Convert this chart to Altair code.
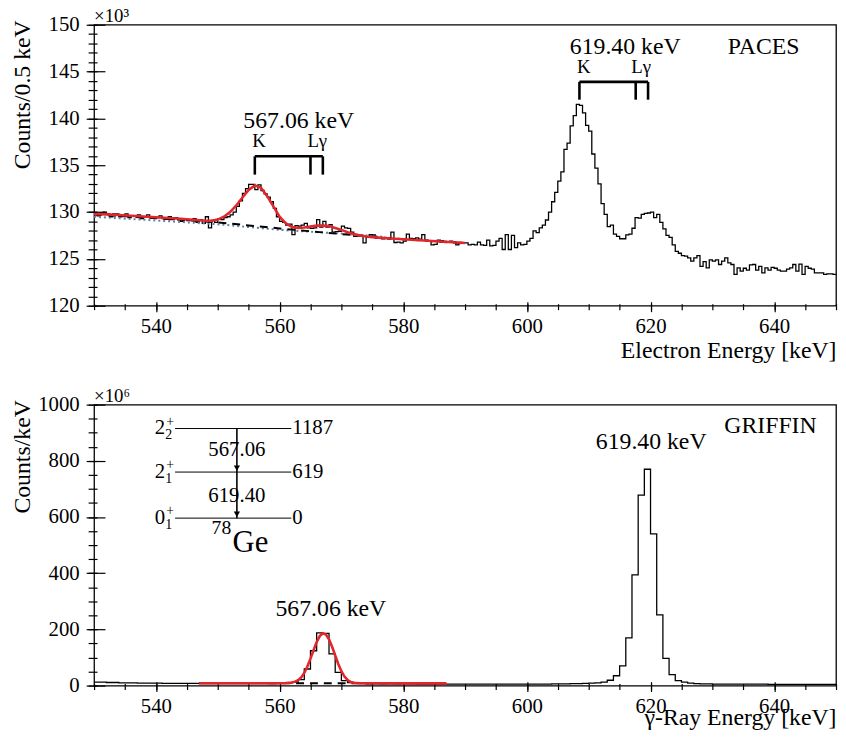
import altair as alt
import pandas as pd

FONT = "Liberation Serif"
W, H = 750, 284
RED = "#e3262b"
BLUE = "#5f809e"

# ---------------- PACES (electron) spectrum, 0.5 keV bins, counts x10^3 ----------------
paces_start = 530.0
paces_binw = 0.5
paces_counts = [
    # 530.0 - 549.5
    129.9, 129.6, 129.9, 130.0, 129.8, 129.5, 129.8, 129.8, 129.5, 129.7,
    129.8, 129.4, 129.6, 129.6, 129.7, 129.3, 129.5, 129.7, 129.4, 129.5,
    129.4, 129.6, 129.3, 129.4, 129.5, 129.2, 129.4, 129.3, 129.0, 129.2,
    129.1, 129.2, 129.3, 128.9, 129.2, 128.8, 129.5, 128.3, 129.1, 128.9,
    # 550.0 - 559.5
    129.3, 129.2, 129.4, 129.5, 129.7, 130.0, 130.6, 131.2, 132.0, 132.5,
    132.95, 132.95, 132.4, 132.9, 132.3, 131.95, 131.6, 131.1, 130.4, 129.5,
    # 560.0 - 589.5
    129.0, 128.9, 128.6, 128.7, 127.6, 128.55, 128.5, 128.6, 128.8, 128.3,
    128.25, 128.3, 129.2, 128.4, 129.0, 128.4, 128.65, 127.85, 127.9, 127.95,
    128.5, 128.3, 128.25, 127.85, 127.4, 127.45, 127.5, 126.7, 127.3, 127.6,
    127.55, 127.2, 127.25, 127.15, 127.2, 127.1, 127.85, 126.75, 126.8, 126.7,
    126.9, 127.64, 127.2, 127.15, 127.25, 127.1, 127.6, 127.0, 126.9, 126.5,
    126.55, 127.0, 126.95, 126.86, 126.8, 126.9, 126.85, 126.5, 126.75, 126.7,
    # 590.0 - 619.5
    126.7, 126.5, 126.55, 126.5, 126.8, 126.5, 126.45, 127.0, 126.4, 126.45,
    126.9, 127.2, 126.0, 127.6, 126.0, 127.5, 126.2, 126.7, 126.5, 126.55,
    126.9, 127.2, 128.0, 127.8, 128.3, 128.6, 129.15, 130.0, 131.1, 132.1,
    133.3, 134.3, 136.7, 137.35, 139.2, 140.3, 141.5, 141.4, 140.6, 139.25,
    138.65, 136.2, 134.7, 133.0, 130.9, 129.75, 128.45, 128.6, 127.64, 127.4,
    127.15, 127.15, 127.57, 127.64, 128.27, 129.4, 129.35, 129.75, 129.85, 129.9,
    # 620.0 - 649.5
    130.0, 129.4, 129.75, 128.9, 128.2, 127.5, 127.3, 126.5, 125.8, 125.6,
    125.35, 125.3, 125.1, 124.75, 125.1, 125.35, 124.2, 124.7, 124.05, 124.9,
    124.75, 124.9, 124.4, 124.75, 125.1, 124.57, 124.4, 123.35, 124.05, 123.7,
    124.0, 123.8, 124.35, 124.4, 123.8, 124.2, 123.5, 124.05, 123.8, 124.1,
    124.0, 123.8, 123.7, 123.7, 123.9, 124.05, 124.4, 123.7, 124.45, 123.35,
    124.2, 124.0, 123.9, 123.5, 123.5, 123.5, 123.35, 123.4, 123.4, 123.35,
]

paces_fit_energy = [530, 532, 534, 536, 538, 540, 542, 544, 546, 548, 549, 550, 551, 552,
                    553, 554, 555, 556, 557, 558, 559, 560, 561, 562, 563, 564, 565, 566,
                    567, 568, 569, 570, 571, 572, 573, 574, 575, 576, 578, 580, 582, 584,
                    586, 588, 590]
paces_fit_counts = [129.8, 129.75, 129.68, 129.6, 129.52, 129.45, 129.37, 129.28, 129.17,
                    129.08, 129.08, 129.2, 129.5, 130.0, 130.7, 131.55, 132.35, 132.85,
                    132.6, 131.7, 130.6, 129.5, 128.8, 128.4, 128.3, 128.35, 128.45, 128.55,
                    128.55, 128.5, 128.3, 128.1, 127.85, 127.65, 127.5, 127.4, 127.32,
                    127.27, 127.18, 127.1, 127.02, 126.94, 126.86, 126.78, 126.7]
paces_bg_energy = [530, 540, 550, 560, 570, 580, 590]
paces_bg_counts = [129.75, 129.35, 128.9, 128.25, 127.65, 127.1, 126.65]
paces_bg2_energy = [530, 540, 550, 560, 570, 577]
paces_bg2_counts = [129.5, 129.1, 128.7, 128.1, 127.7, 127.35]

# ---------------- GRIFFIN (gamma) spectrum, 1 keV bins ----------------
griffin_start = 530.0
griffin_binw = 1.0
griffin_counts = [
    12, 12, 11, 11, 10, 10, 10, 9, 9, 9,
    9, 8, 8, 8, 8, 8, 8, 7, 7, 7,
    7, 7, 7, 7, 7, 7, 7, 7, 7, 7,
    8, 9, 12, 21, 59, 124, 188, 186, 113, 47,
    18, 11, 8, 7, 6, 6, 6, 6, 6, 6,
    6, 6, 5, 5, 5, 5, 5, 5, 5, 5,
    5, 5, 5, 5, 5, 5, 5, 5, 5, 5,
    5, 5, 5, 5, 6, 6, 6, 7, 7, 8,
    9, 10, 12, 19, 35, 70, 170, 394, 678, 770,
    540, 252, 97, 39, 18, 12, 9, 7, 6, 6,
    5, 5, 5, 5, 5, 5, 5, 5, 5, 4,
    4, 4, 4, 4, 4, 4, 4, 4, 4, 4,
]
griffin_fit_energy = [547, 550, 555, 558, 560, 561, 562, 562.5, 563, 563.5, 564, 564.5, 565,
                      565.5, 566, 566.5, 567, 567.5, 568, 568.5, 569, 569.5, 570, 570.5, 571,
                      571.5, 572, 573, 575, 580, 587]
griffin_fit_counts = [8.5, 8.4, 8.3, 8.3, 8.5, 9, 11, 14, 19, 29, 45, 68, 96, 126, 155, 176,
                      186, 182, 165, 138, 107, 77, 51, 32, 20, 13, 10, 8.5, 8.2, 8.0, 7.8]
griffin_bg_energy = [547, 587]
griffin_bg_counts = [9.0, 8.0]

# ---------------- annotation texts ----------------
top_texts = ["567.06 keV", "619.40 keV", "PACES"]
top_text_E = [563.1, 615.9, 638.3]
top_text_C = [139.7, 147.6, 147.6]
conv_labels = ["K", "Lγ", "K", "Lγ"]
conv_label_E = [556.7, 566.1, 609.2, 618.5]
conv_label_C = [137.6, 137.6, 145.5, 145.5]
bracket_K = [556.0, 608.5]
bracket_L1 = [565.0, 617.6]
bracket_L2 = [567.0, 619.6]
bracket_top = [135.95, 143.9]
bracket_bot = [134.0, 142.0]

bot_texts = ["567.06 keV", "619.40 keV", "GRIFFIN"]
bot_text_E = [568.3, 620.1, 639.4]
bot_text_C = [273, 866, 925]

# level scheme of 78Ge
level_names = ["2", "2", "0"]
level_sub = ["2", "1", "1"]
level_energy = ["1187", "619", "0"]
level_y = [915, 760, 596]
level_x1, level_x2 = 543.1, 561.9
gamma_labels = ["567.06", "619.40"]
gamma_x = 553.1
gamma_label_y = [838, 676]

x_major = [540, 560, 580, 600, 620, 640]
x_minor = list(range(530, 651, 5))


def step_frame(start, bw, counts):
    n = len(counts)
    return pd.DataFrame({"E": [start + i * bw for i in range(n + 1)],
                         "C": list(counts) + [counts[-1]]})


def panel(hist_df, ydom, y_major, y_minor, x_title, y_title, x_title_y, exp_label, extra):
    xs = alt.Scale(domain=[530, 650], nice=False, zero=False)
    ys = alt.Scale(domain=ydom, nice=False, zero=False)

    x_lab = alt.Axis(orient="bottom", values=x_major, ticks=False, tickSize=0, domain=False,
                     grid=False, labelFont=FONT, labelFontSize=21, labelPadding=10,
                     labelFlush=False, format="d",
                     title=x_title, titleFont=FONT, titleFontSize=24, titleFontWeight="normal",
                     titleX=W, titleY=x_title_y, titleAlign="right", titleBaseline="middle")
    y_lab = alt.Axis(orient="left", values=y_major, ticks=False, tickSize=0, domain=False,
                     grid=False, labelFont=FONT, labelFontSize=21, labelPadding=15, format="d",
                     title=y_title, titleFont=FONT, titleFontSize=24, titleFontWeight="normal",
                     titleX=-72, titleY=-5, titleAngle=270, titleAlign="right",
                     titleBaseline="middle")

    base = alt.Chart(hist_df)
    hist = base.mark_line(interpolate="step-after", color="black", strokeWidth=1.3,
                          clip=True).encode(
        x=alt.X("E:Q", scale=xs, axis=x_lab),
        y=alt.Y("C:Q", scale=ys, axis=y_lab))

    def ticks_layer(xv, yv, xsize, ysize, inward):
        if inward:
            xo = dict(orient="top", offset=-H)
            yo = dict(orient="right", offset=-W)
        else:
            xo = dict(orient="bottom")
            yo = dict(orient="left")
        return base.mark_line(strokeOpacity=0).encode(
            x=alt.X("E:Q", scale=xs, axis=alt.Axis(values=xv, tickSize=xsize, tickWidth=1.2,
                                                  labels=False, domain=False, grid=False,
                                                  title=None, **xo)),
            y=alt.Y("C:Q", scale=ys, axis=alt.Axis(values=yv, tickSize=ysize, tickWidth=1.2,
                                                  labels=False, domain=False, grid=False,
                                                  title=None, **yo)))

    exp_df = pd.DataFrame({"E": [530], "C": [ydom[1]], "t": [exp_label]})
    exp_txt = alt.Chart(exp_df).mark_text(font=FONT, fontSize=19, align="left",
                                          baseline="alphabetic", dy=-3).encode(
        x=alt.X("E:Q", scale=xs, axis=None), y=alt.Y("C:Q", scale=ys, axis=None),
        text="t:N")

    layers = [hist] + [e(xs, ys) for e in extra] + [
        ticks_layer(x_major, y_major, 4, 11, True),
        ticks_layer(x_minor, y_minor, 2, 3, True),
        ticks_layer(x_major, y_major, 6, 8, False),
        ticks_layer(x_minor, y_minor, 4, 6, False),
        exp_txt]
    return alt.layer(*layers).resolve_axis(x="independent", y="independent").properties(
        width=W, height=H)


def xy(xs, ys, ex="E", ey="C"):
    return dict(x=alt.X(ex + ":Q", scale=xs, axis=None), y=alt.Y(ey + ":Q", scale=ys, axis=None))


# ---------- top extras ----------
def top_fit(xs, ys):
    df = pd.DataFrame({"E": paces_fit_energy, "C": paces_fit_counts})
    return alt.Chart(df).mark_line(color=RED, strokeWidth=2.6).encode(**xy(xs, ys))


def top_bg(xs, ys):
    df = pd.DataFrame({"E": paces_bg_energy, "C": paces_bg_counts})
    return alt.Chart(df).mark_line(color="black", strokeWidth=2, strokeDash=[8, 6]).encode(**xy(xs, ys))


def top_bg2(xs, ys):
    df = pd.DataFrame({"E": paces_bg2_energy, "C": paces_bg2_counts})
    return alt.Chart(df).mark_line(color=BLUE, strokeWidth=2, strokeDash=[2, 3]).encode(**xy(xs, ys))


def top_text(xs, ys):
    df = pd.DataFrame({"E": top_text_E, "C": top_text_C, "t": top_texts})
    return alt.Chart(df).mark_text(font=FONT, fontSize=24, baseline="middle").encode(
        text="t:N", **xy(xs, ys))


def top_conv(xs, ys):
    df = pd.DataFrame({"E": conv_label_E, "C": conv_label_C, "t": conv_labels})
    return alt.Chart(df).mark_text(font=FONT, fontSize=19, baseline="middle").encode(
        text="t:N", **xy(xs, ys))


def top_bracket_h(xs, ys):
    df = pd.DataFrame({"E": bracket_K, "E2": bracket_L2, "C": bracket_top})
    return alt.Chart(df).mark_rule(color="black", strokeWidth=2.6).encode(
        x2="E2:Q", **xy(xs, ys))


def top_bracket_v(xs, ys):
    df = pd.DataFrame({"E": bracket_K + bracket_L1 + bracket_L2,
                       "C": bracket_top * 3, "C2": bracket_bot * 3})
    return alt.Chart(df).mark_rule(color="black", strokeWidth=2.6).encode(
        y2="C2:Q", **xy(xs, ys))


# ---------- bottom extras ----------
def bot_fit(xs, ys):
    df = pd.DataFrame({"E": griffin_fit_energy, "C": griffin_fit_counts})
    return alt.Chart(df).mark_line(color=RED, strokeWidth=2.6).encode(**xy(xs, ys))


def bot_bg(xs, ys):
    df = pd.DataFrame({"E": griffin_bg_energy, "C": griffin_bg_counts})
    return alt.Chart(df).mark_line(color="black", strokeWidth=2, strokeDash=[8, 6]).encode(**xy(xs, ys))


def bot_text(xs, ys):
    df = pd.DataFrame({"E": bot_text_E, "C": bot_text_C, "t": bot_texts})
    return alt.Chart(df).mark_text(font=FONT, fontSize=24, baseline="middle").encode(
        text="t:N", **xy(xs, ys))


def lvl_lines(xs, ys):
    df = pd.DataFrame({"E": [level_x1] * 3, "E2": [level_x2] * 3, "C": level_y})
    return alt.Chart(df).mark_rule(color="black", strokeWidth=1).encode(x2="E2:Q", **xy(xs, ys))


def lvl_arrows(xs, ys):
    df = pd.DataFrame({"E": [gamma_x] * 2, "C": level_y[:2], "C2": level_y[1:]})
    return alt.Chart(df).mark_rule(color="black", strokeWidth=1.6).encode(y2="C2:Q", **xy(xs, ys))


def lvl_heads(xs, ys):
    df = pd.DataFrame({"E": [gamma_x] * 2, "C": level_y[1:]})
    return alt.Chart(df).mark_point(shape="triangle-down", filled=True, color="black",
                                    size=40, opacity=1, yOffset=-4).encode(**xy(xs, ys))


def lvl_names(xs, ys):
    df = pd.DataFrame({"E": [level_x1] * 3, "C": level_y, "t": level_names})
    return alt.Chart(df).mark_text(font=FONT, fontSize=21, align="right", baseline="middle",
                                   dx=-10).encode(text="t:N", **xy(xs, ys))


def lvl_sup(xs, ys):
    df = pd.DataFrame({"E": [level_x1] * 3, "C": level_y, "t": ["+"] * 3})
    return alt.Chart(df).mark_text(font=FONT, fontSize=14, align="right", baseline="middle",
                                   dx=-1, dy=-7, color="black").encode(text="t:N", **xy(xs, ys))


def lvl_sub(xs, ys):
    df = pd.DataFrame({"E": [level_x1] * 3, "C": level_y, "t": level_sub})
    return alt.Chart(df).mark_text(font=FONT, fontSize=14, align="right", baseline="middle",
                                   dx=-3, dy=7, color="black").encode(text="t:N", **xy(xs, ys))


def lvl_energy(xs, ys):
    df = pd.DataFrame({"E": [level_x2] * 3, "C": level_y, "t": level_energy})
    return alt.Chart(df).mark_text(font=FONT, fontSize=21, align="left", baseline="middle",
                                   dx=1).encode(text="t:N", **xy(xs, ys))


def lvl_gamma(xs, ys):
    df = pd.DataFrame({"E": [gamma_x] * 2, "C": gamma_label_y, "t": gamma_labels})
    return alt.Chart(df).mark_text(font=FONT, fontSize=21, baseline="middle").encode(
        text="t:N", **xy(xs, ys))


def lvl_ge(xs, ys):
    df = pd.DataFrame({"E": [552.4], "C": [508], "t": ["Ge"]})
    return alt.Chart(df).mark_text(font=FONT, fontSize=31, align="left", baseline="middle").encode(
        text="t:N", **xy(xs, ys))


def lvl_mass(xs, ys):
    df = pd.DataFrame({"E": [552.2], "C": [560], "t": ["78"]})
    return alt.Chart(df).mark_text(font=FONT, fontSize=20, align="right", baseline="middle").encode(
        text="t:N", **xy(xs, ys))


top = panel(step_frame(paces_start, paces_binw, paces_counts), [120, 150],
            list(range(120, 151, 5)), list(range(120, 151, 1)),
            "Electron Energy [keV]", "Counts/0.5 keV", 45, "×10³",
            [top_bg2, top_bg, top_fit, top_text, top_conv, top_bracket_h, top_bracket_v])

bottom = panel(step_frame(griffin_start, griffin_binw, griffin_counts), [0, 1000],
               list(range(0, 1001, 200)), list(range(0, 1001, 50)),
               "γ-Ray Energy [keV]", "Counts/keV", 32, "×10⁶",
               [bot_bg, bot_fit, bot_text, lvl_lines, lvl_arrows, lvl_heads, lvl_names,
                lvl_sup, lvl_sub, lvl_energy, lvl_gamma, lvl_ge, lvl_mass])

chart = alt.vconcat(top, bottom, spacing=23).properties(
    padding={"left": 2, "top": -6, "right": 0, "bottom": 0}
).configure(font=FONT, background="white").configure_view(
    stroke="black", strokeWidth=1.3
).configure_axis(
    labelFont=FONT, titleFont=FONT, labelColor="black", titleColor="black",
    tickColor="black", domainColor="black"
)

chart.save("out.html", embed_options={"renderer": "svg", "actions": False})
